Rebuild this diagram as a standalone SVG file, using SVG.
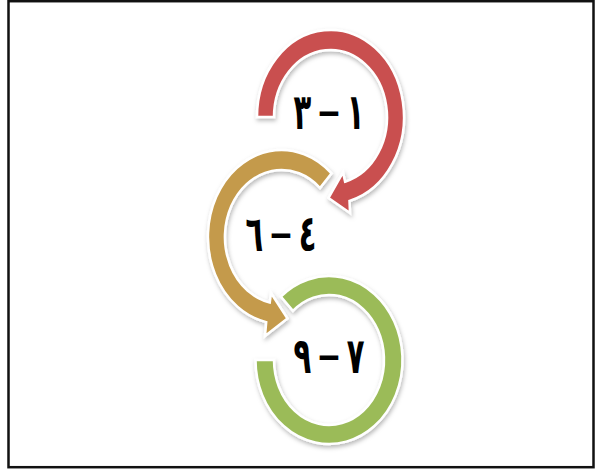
<svg xmlns="http://www.w3.org/2000/svg" width="595" height="469" viewBox="0 0 595 469">
  <defs>
    <filter id="shadow" x="-20%" y="-20%" width="140%" height="140%">
      <feDropShadow dx="1" dy="2.5" stdDeviation="2" flood-color="#000" flood-opacity="0.28"/>
    </filter>
  </defs>
  <style>
    .ring { stroke: #ffffff; stroke-width: 2.5; stroke-linejoin: miter; filter: url(#shadow); }
    .red { fill: #C9504F; }
    .gold { fill: #C49A4B; }
    .green { fill: #9BBB59; }
    .lbl { font-family: 'DejaVu Sans', sans-serif; font-weight: bold; font-size: 50px; fill: #000; text-anchor: middle; }
    .dash { font-size: 36px; baseline-shift: 5px; }
  </style>
  <rect x="0" y="0" width="595" height="469" fill="#ffffff"/>
  <rect x="8.5" y="1.2" width="585" height="466" fill="none" stroke="#111" stroke-width="2.5"/>

  <g id="node-green">
    <path class="ring green" d="M 255.5 360 A 73.5 84 0 1 0 280.8 296.6 L 292.9 310.9 A 55 65 0 1 1 274 360 Z"/>
    <text class="lbl" transform="translate(329 373) scale(0.58 1)" x="0" y="0" direction="rtl">٧&#8197;<tspan class="dash">—</tspan>&#8197;٩</text>
  </g>

  <g id="node-gold">
    <path class="ring gold" d="M 331.6 173.4 A 73.5 87 0 1 0 266.2 322.1 L 265 336 L 287.5 318.5 L 271 293 L 269.75 302.5 A 56.5 67 0 1 1 320 188 Z"/>
    <text class="lbl" transform="translate(281 251) scale(0.58 1)" x="0" y="0" direction="rtl">٤&#8197;<tspan class="dash">—</tspan>&#8197;٦</text>
  </g>

  <g id="node-red">
    <path class="ring red" d="M 257 117 A 73.5 87 0 1 1 349.5 201 L 350 213 L 328.5 198 L 343 172.5 L 345.1 181.7 A 56.5 67 0 1 0 274 117 Z"/>
    <text class="lbl" transform="translate(329 129) scale(0.58 1)" x="0" y="0" direction="rtl">١&#8197;<tspan class="dash">—</tspan>&#8197;٣</text>
  </g>

  <g id="connectors"/>
</svg>
